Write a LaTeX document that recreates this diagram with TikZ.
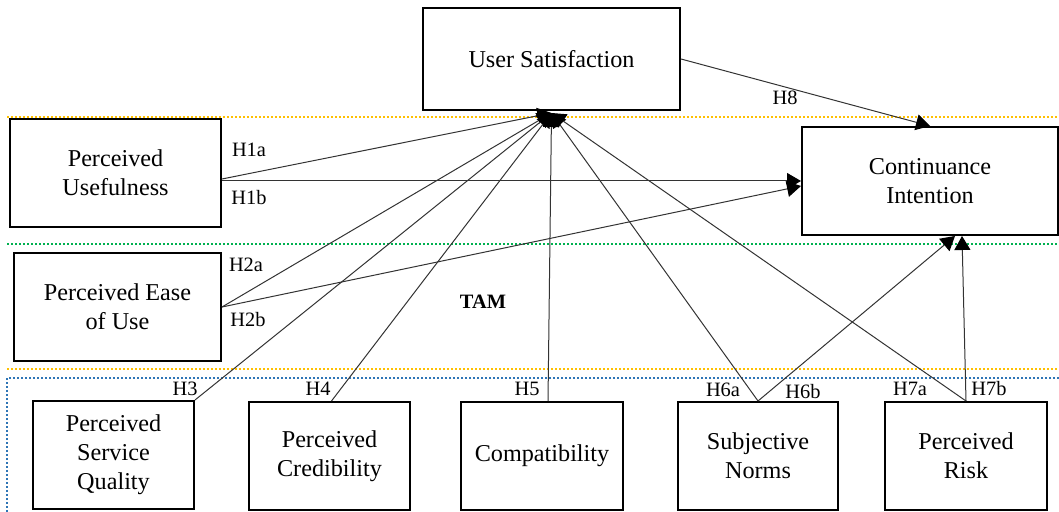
\documentclass[tikz,border=0pt]{standalone}
\usepackage{fontspec}
\setmainfont{Liberation Serif}
\usetikzlibrary{arrows.meta}
\definecolor{bandgold}{HTML}{FFC000}
\definecolor{bandgreen}{HTML}{00B050}
\definecolor{bandblue}{HTML}{2E75B6}
\tikzset{
	construct/.style 2 args={draw,line width=1pt,align=center,inner sep=0pt,minimum width=#1,minimum height=#2,font=\fontsize{12.1}{14.5}\selectfont},
	lower/.style={construct={80.5pt}{54pt}},
	hyp/.style={inner sep=0pt,font=\fontsize{10.2}{11}\selectfont},
	path/.style={draw=black!80,line width=0.5pt,-{Triangle[length=7pt,width=8pt,black]}},
	band/.style={line width=1pt,dash pattern=on 1pt off 1pt}
}

\begin{document}
\begin{tikzpicture}[x=0.5pt,y=-0.5pt]
		\useasboundingbox (0,0) rectangle (1059,512);
		\draw[band,draw=bandgold] (7,117) -- (1059,117);
		\draw[band,draw=bandgreen] (7,244) -- (1059,244);
		\draw[band,draw=bandgold] (7,369) -- (1059,369);
		\draw[band,draw=bandblue,line width=0.7pt] (1059,378) -- (7,378) -- (7,512);

		\node[construct={128.5pt}{51pt}] (us) at (551.5,59) {User Satisfaction};
		\node[construct={128pt}{54pt}] (ci) at (930,181) {Continuance\\Intention};
		\node[construct={105.5pt}{54pt}] (pu) at (115.5,173) {Perceived\\Usefulness};
		\node[construct={103.5pt}{54pt}] (peou) at (117.5,307) {Perceived Ease\\of Use};
		\node[lower] (psq) at (113.5,455) {Perceived\\Service\\Quality};
		\node[lower] (pcr) at (329.5,456) {Perceived\\Credibility};
		\node[lower,minimum width=81pt] (cmp) at (542,456) {Compatibility};
		\node[lower,minimum width=80pt] (sn) at (758,456) {Subjective\\Norms};
		\node[lower,minimum width=81pt] (pr) at (966,456) {Perceived\\Risk};

		\coordinate (ustip) at ([yshift=-1pt]us.south);
		\draw[path] ([yshift=-3pt]pu.east) -- (ustip);
		\draw[path] ([yshift=-4pt]pu.east) -- (ci.west);
		\draw[path] (peou.east) -- (ustip);
		\draw[path] (peou.east) -- ([yshift=-2.5pt]ci.west);
		\draw[path] (psq.north east) -- (ustip);
		\draw[path] ([xshift=1pt]pcr.north) -- (ustip);
		\draw[path] ([xshift=3pt]cmp.north) -- (ustip);
		\draw[path] (sn.north) -- (ustip);
		\draw[path] (sn.north) -- ([xshift=12.5pt]ci.south);
		\draw[path] (pr.north) -- (ustip);
		\draw[path] (pr.north) -- ([xshift=16pt]ci.south);
		\draw[path] (us.east) -- (ci.north);

		\node[hyp] (h1a) at (249,150) {H1a};
		\node[hyp] (h1b) at (249,198) {H1b};
		\node[hyp] (h2a) at (246,265) {H2a};
		\node[hyp] (h2b) at (248,320) {H2b};
		\node[hyp] (h3) at (185,389) {H3};
		\node[hyp] (h4) at (318,389) {H4};
		\node[hyp] (h5) at (527,389) {H5};
		\node[hyp] (h6a) at (723,390) {H6a};
		\node[hyp] (h6b) at (803,392) {H6b};
		\node[hyp] (h7a) at (910,389) {H7a};
		\node[hyp] (h7b) at (989,389) {H7b};
		\node[hyp] (h8) at (785,98) {H8};
		\node[hyp,font=\fontsize{10.2}{11}\selectfont\bfseries] (tam) at (483,302) {TAM};
	\end{tikzpicture}
\end{document}
